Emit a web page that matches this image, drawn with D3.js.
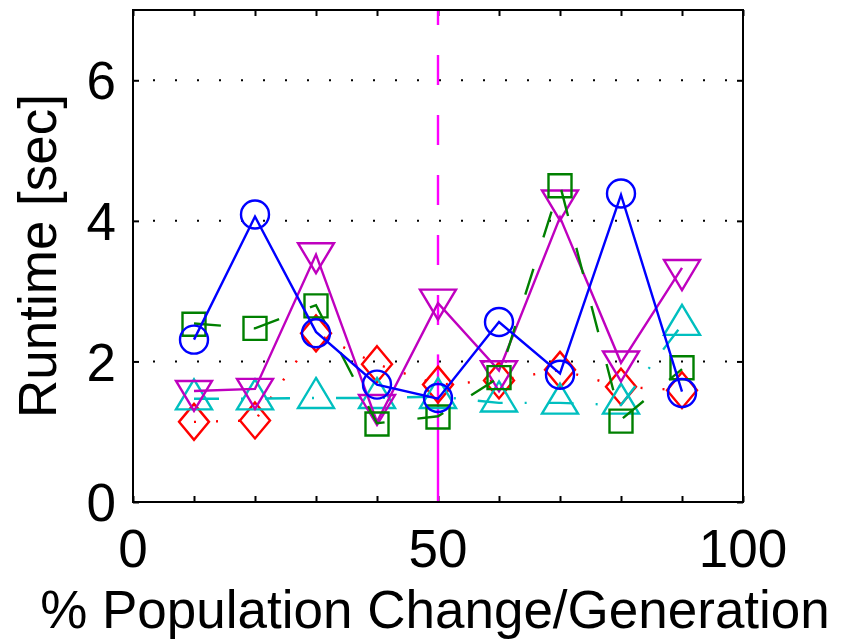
<!DOCTYPE html>
<html>
<head>
<meta charset="utf-8">
<script src="https://cdn.jsdelivr.net/npm/d3@7"></script>
<style>
  html, body { margin: 0; padding: 0; background: #fff; }
  svg { display: block; }
  text { font-family: "Liberation Sans", Arial, Helvetica, sans-serif; fill: #000; }
</style>
</head>
<body>
<svg id="chart" width="846" height="640"></svg>
<script>
// ---------------- data ----------------
const xValues = [10, 20, 30, 40, 50, 60, 70, 80, 90];

const blueMarkers    = [2.31, 4.09, 2.40, 1.67, 1.48, 2.56, 1.81, 4.39, 1.55];
const blueLine       = [2.31, 4.06, 2.42, 1.67, 1.47, 2.56, 1.83, 4.37, 1.57];
const greenMarkers   = [2.53, 2.47, 2.79, 1.11, 1.21, 1.77, 4.50, 1.15, 1.91];
const greenLine      = [2.54, 2.47, 2.80, 1.12, 1.22, 1.77, 4.51, 1.17, 1.89];
const magentaMarkers = [1.58, 1.61, 3.54, 1.38, 2.88, 1.86, 4.29, 2.00, 3.30];
const magentaLine    = [1.58, 1.61, 3.52, 1.14, 2.83, 1.87, 4.05, 1.98, 3.33];
const cyanMarkers    = [1.46, 1.46, 1.48, 1.48, 1.48, 1.43, 1.40, 1.40, 2.52];
const cyanLine       = [1.47, 1.47, 1.48, 1.48, 1.50, 1.41, 1.41, 1.38, 2.52];
const redMarkers     = [1.14, 1.16, 2.40, 1.96, 1.67, 1.73, 1.88, 1.64, 1.59];
const redLine        = [1.14, 1.16, 2.40, 1.96, 1.67, 1.73, 1.88, 1.64, 1.59];

const xTickValues = [0, 10, 20, 30, 40, 50, 60, 70, 80, 90, 100];
const xTickLabels = ["0", "", "", "", "", "50", "", "", "", "", "100"];
const yTickValues = [0, 2, 4, 6];
const yTickLabels = ["0", "2", "4", "6"];
const yGridValues = [2, 4, 6];
const xDomain = [0, 100];
const yDomain = [0, 7];
const markerLineX = 50;         // vertical reference line
const markerLineSolidTop = 2.1; // solid portion of the reference line

const xLabel = "% Population Change/Generation";
const yLabel = "Runtime [sec]";

// ---------------- layout ----------------
const L = 133, R = 743, T = 10, B = 502;
const svg = d3.select("#chart");

const x = d3.scaleLinear().domain(xDomain).range([L, R]);
const y = d3.scaleLinear().domain(yDomain).range([B, T]);

const FS = 53;
const SW = 2.4;

// grid (dotted)
svg.append("g").selectAll("line").data(yGridValues).join("line")
  .attr("x1", L).attr("x2", R)
  .attr("y1", d => y(d)).attr("y2", d => y(d))
  .attr("stroke", "#000").attr("stroke-width", 2)
  .attr("stroke-dasharray", "2,20").attr("stroke-dashoffset", -20);

// axes with inward ticks
const tickLen = 6;
const axisBottom = d3.axisBottom(x).tickValues(xTickValues).tickSize(-tickLen).tickFormat(() => "");
const axisTop = d3.axisTop(x).tickValues(xTickValues).tickSize(-tickLen).tickFormat(() => "");
const axisLeft = d3.axisLeft(y).tickValues(yTickValues).tickSize(-tickLen).tickFormat(() => "");
const axisRight = d3.axisRight(y).tickValues(yTickValues).tickSize(-tickLen).tickFormat(() => "");

function styleAxis(g) {
  g.selectAll(".domain").remove();
  g.selectAll(".tick line").attr("stroke", "#000").attr("stroke-width", 2);
}
svg.append("g").attr("transform", `translate(0,${B})`).call(axisBottom).call(styleAxis);
svg.append("g").attr("transform", `translate(0,${T})`).call(axisTop).call(styleAxis);
svg.append("g").attr("transform", `translate(${L},0)`).call(axisLeft).call(styleAxis);
svg.append("g").attr("transform", `translate(${R},0)`).call(axisRight).call(styleAxis);

// tick labels
svg.append("g").selectAll("text").data(xTickValues.map((v, i) => ({v, t: xTickLabels[i]})).filter(d => d.t))
  .join("text")
  .attr("x", d => x(d.v)).attr("y", 567)
  .attr("text-anchor", "middle").attr("font-size", FS)
  .text(d => d.t);

svg.append("g").selectAll("text").data(yTickValues.map((v, i) => ({v, t: yTickLabels[i]})))
  .join("text")
  .attr("x", 116).attr("y", d => y(d.v))
  .attr("dy", "0.36em")
  .attr("text-anchor", "end").attr("font-size", FS)
  .text(d => d.t);

// axis labels
svg.append("text")
  .attr("x", (L + R) / 2 - 3).attr("y", 628)
  .attr("text-anchor", "middle").attr("font-size", FS)
  .text(xLabel);

svg.append("text")
  .attr("transform", `translate(56,${(T + B) / 2}) rotate(-90)`)
  .attr("text-anchor", "middle").attr("font-size", FS)
  .text(yLabel);

// vertical reference line
svg.append("line")
  .attr("x1", x(markerLineX)).attr("x2", x(markerLineX))
  .attr("y1", y(yDomain[1])).attr("y2", y(markerLineSolidTop))
  .attr("stroke", "#ff00ff").attr("stroke-width", SW)
  .attr("stroke-dasharray", "30,30").attr("stroke-dashoffset", 15);
svg.append("line")
  .attr("x1", x(markerLineX)).attr("x2", x(markerLineX))
  .attr("y1", y(markerLineSolidTop)).attr("y2", y(0))
  .attr("stroke", "#ff00ff").attr("stroke-width", SW);

// ---------------- series ----------------
const symbols = {
  circle: "M14,0A14,14 0 1,1 -14,0A14,14 0 1,1 14,0Z",
  square: "M-11.5,-11.5H11.5V11.5H-11.5Z",
  diamond: "M0,-18L15,0L0,18L-15,0Z",
  triUp: "M0,-20L18,10L-18,10Z",
  triDown: "M0,20L18,-10L-18,-10Z"
};

const series = [
  {color: "#ff0000", dash: "2,20", line: redLine, markers: redMarkers, sym: symbols.diamond},
  {color: "#00bfbf", dash: "25,22,2,22", line: cyanLine, markers: cyanMarkers, sym: symbols.triUp},
  {color: "#bf00bf", dash: null, line: magentaLine, markers: magentaMarkers, sym: symbols.triDown},
  {color: "#008000", dash: "27,33", line: greenLine, markers: greenMarkers, sym: symbols.square},
  {color: "#0000ff", dash: null, line: blueLine, markers: blueMarkers, sym: symbols.circle}
];

const lineGen = d3.line().x((d, i) => x(xValues[i])).y(d => y(d));

series.forEach(s => {
  const g = svg.append("g");
  g.append("path")
    .attr("d", lineGen(s.line))
    .attr("fill", "none").attr("stroke", s.color).attr("stroke-width", SW)
    .attr("stroke-linejoin", "miter")
    .attr("stroke-dasharray", s.dash);
  g.selectAll("path.m").data(s.markers).join("path")
    .attr("class", "m")
    .attr("transform", (d, i) => `translate(${x(xValues[i])},${y(d)})`)
    .attr("d", s.sym)
    .attr("fill", "none").attr("stroke", s.color).attr("stroke-width", SW);
});

// frame
svg.append("rect")
  .attr("x", L).attr("y", T).attr("width", R - L).attr("height", B - T)
  .attr("fill", "none").attr("stroke", "#000").attr("stroke-width", 2);
</script>
</body>
</html>
